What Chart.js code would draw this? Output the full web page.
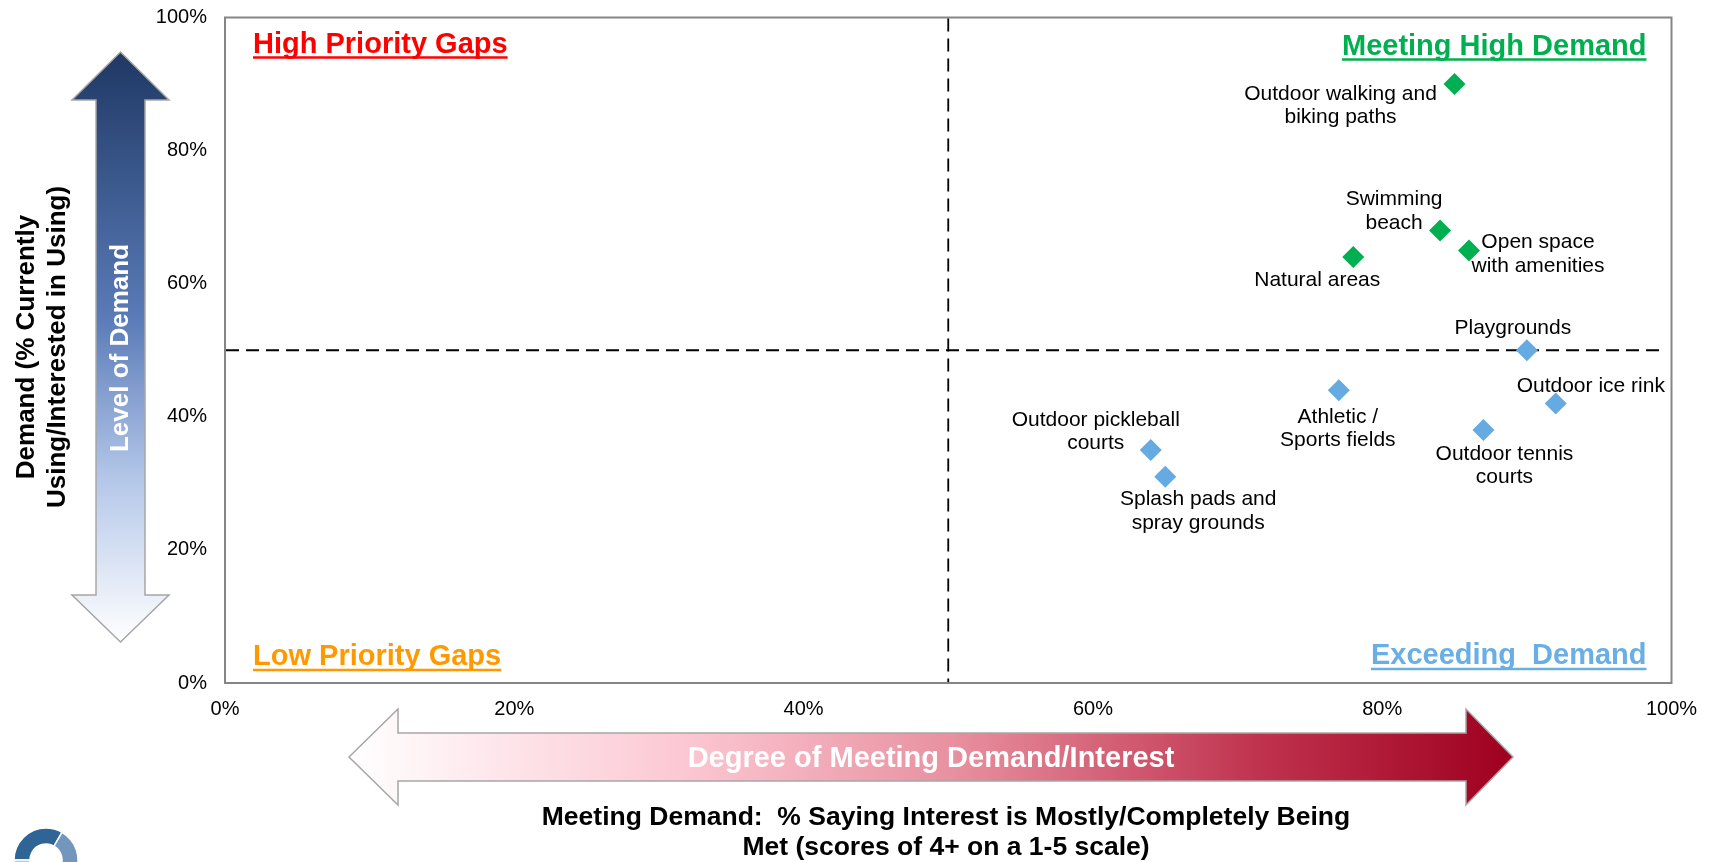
<!DOCTYPE html>
<html>
<head>
<meta charset="utf-8">
<script src="https://cdn.jsdelivr.net/npm/chart.js@4/dist/chart.umd.min.js"></script>
<style>
html,body{margin:0;padding:0;background:#fff;overflow:hidden;}
canvas{display:block;}
</style>
</head>
<body>
<canvas id="c" width="1713" height="862" style="width:1713px;height:862px"></canvas>
<script>
// ---- DATA ----
const highNames = [['Outdoor walking and','biking paths'], ['Swimming','beach'], ['Open space','with amenities'], ['Natural areas']];
const highMet = [85, 84, 86, 78];
const highDemand = [90, 68, 65, 64];

const exceedNames = [['Playgrounds'], ['Outdoor ice rink'], ['Outdoor tennis','courts'], ['Athletic /','Sports fields'], ['Outdoor pickleball','courts'], ['Splash pads and','spray grounds']];
const exceedMet = [90, 92, 87, 77, 64, 65];
const exceedDemand = [50, 42, 38, 44, 35, 31];

const tickLabels = ['0%', '20%', '40%', '60%', '80%', '100%'];
const quadrantTitles = ['High Priority Gaps', 'Meeting High Demand', 'Low Priority Gaps', 'Exceeding  Demand'];
const xTitle = ['Meeting Demand:  % Saying Interest is Mostly/Completely Being', 'Met (scores of 4+ on a 1-5 scale)'];
const yTitle = ['Demand (% Currently', 'Using/Interested in Using)'];
const yArrowText = 'Level of Demand';
const xArrowText = 'Degree of Meeting Demand/Interest';
const threshold = 50;

// ---- LAYOUT (label offsets in px relative to the point) ----
const highLabelOffsets = [[-114, 10], [-46, -31], [69, -8], [-36, 23]];
const exceedLabelOffsets = [[-14, -22], [35, -17], [21, 24], [-1, 27], [-55, -30], [33, 23]];

const FAM = '"Liberation Sans", Arial, Helvetica, sans-serif';
const GREEN = '#00B050', BLUE = '#66AAE2';

function pts(xs, ys) { return xs.map((x, i) => ({ x: x, y: ys[i] })); }

const decor = {
  id: 'decor',
  beforeDraw(chart) {
    const ctx = chart.ctx;
    ctx.save();
    ctx.fillStyle = '#fff';
    ctx.fillRect(0, 0, chart.width, chart.height);

    // vertical double arrow
    let g = ctx.createLinearGradient(0, 52, 0, 642);
    g.addColorStop(0, '#1f3864');
    g.addColorStop(0.45, '#5a7bb8');
    g.addColorStop(0.72, '#b3c6e8');
    g.addColorStop(1, '#ffffff');
    ctx.beginPath();
    [[120.5,52],[169,100],[145,100],[145,595],[169,595],[120.5,642],[72,595],[96,595],[96,100],[72,100]].forEach((p,i)=> i?ctx.lineTo(p[0],p[1]):ctx.moveTo(p[0],p[1]));
    ctx.closePath();
    ctx.fillStyle = g; ctx.fill();
    ctx.strokeStyle = '#a6a6a6'; ctx.lineWidth = 1.5; ctx.stroke();

    ctx.save();
    ctx.translate(121, 348); ctx.rotate(-Math.PI/2);
    ctx.fillStyle = '#fff'; ctx.font = 'bold 26px ' + FAM;
    ctx.textAlign = 'center'; ctx.textBaseline = 'middle';
    ctx.fillText(yArrowText, 0, 0);
    ctx.restore();

    // horizontal double arrow
    g = ctx.createLinearGradient(349, 0, 1513, 0);
    g.addColorStop(0, '#ffffff');
    g.addColorStop(0.28, '#fcc9d4');
    g.addColorStop(0.52, '#e8909f');
    g.addColorStop(0.78, '#c0334f');
    g.addColorStop(1, '#9e001e');
    ctx.beginPath();
    [[349,757],[398,709],[398,733],[1466,733],[1466,709],[1513,757],[1466,805],[1466,781],[398,781],[398,805]].forEach((p,i)=> i?ctx.lineTo(p[0],p[1]):ctx.moveTo(p[0],p[1]));
    ctx.closePath();
    ctx.fillStyle = g; ctx.fill();
    ctx.strokeStyle = '#a6a6a6'; ctx.lineWidth = 1.5; ctx.stroke();
    ctx.fillStyle = '#fff'; ctx.font = 'bold 29px ' + FAM;
    ctx.textAlign = 'center'; ctx.textBaseline = 'middle';
    ctx.fillText(xArrowText, 931, 759);

    // axis titles
    ctx.fillStyle = '#000'; ctx.font = 'bold 26.5px ' + FAM;
    ctx.fillText(xTitle[0], 946, 818);
    ctx.fillText(xTitle[1], 946, 848);
    ctx.font = 'bold 26px ' + FAM;
    ctx.save();
    ctx.translate(0, 347); ctx.rotate(-Math.PI/2);
    ctx.fillText(yTitle[0], 0, 27);
    ctx.fillText(yTitle[1], 0, 58);
    ctx.restore();

    // logo (partial ring)
    const cx = 46, cy = 860, ro = 32, ri = 16;
    function seg(a0, a1, col) {
      ctx.beginPath(); ctx.arc(cx, cy, ro, a0, a1); ctx.arc(cx, cy, ri, a1, a0, true); ctx.closePath();
      ctx.fillStyle = col; ctx.fill();
      ctx.strokeStyle = '#fff'; ctx.lineWidth = 1.5; ctx.stroke();
    }
    seg(Math.PI, 5*Math.PI/3, '#2f6497');
    seg(5*Math.PI/3, 2*Math.PI + 0.4, '#7396bd');
    seg(0.85*Math.PI, Math.PI, '#b8c9de');
    ctx.restore();
  },
  beforeDatasetsDraw(chart) {
    const ctx = chart.ctx, a = chart.chartArea, xs = chart.scales.x, ys = chart.scales.y;
    ctx.save();
    // plot border
    ctx.strokeStyle = '#858585'; ctx.lineWidth = 2;
    ctx.strokeRect(a.left, a.top, a.right - a.left, a.bottom - a.top);
    // dashed threshold lines
    ctx.strokeStyle = '#000'; ctx.lineWidth = 1.8; ctx.setLineDash([13, 7]);
    const vx = xs.getPixelForValue(threshold), hy = ys.getPixelForValue(threshold);
    ctx.beginPath(); ctx.moveTo(vx, a.top + 1); ctx.lineTo(vx, a.bottom - 1); ctx.stroke();
    ctx.beginPath(); ctx.moveTo(a.left + 1, hy); ctx.lineTo(a.right - 12, hy); ctx.stroke();
    ctx.setLineDash([]);

    // quadrant titles
    ctx.font = 'bold 29px ' + FAM; ctx.textBaseline = 'alphabetic';
    function qt(text, x, base, ul, col, align) {
      ctx.fillStyle = col; ctx.strokeStyle = col;
      const w = ctx.measureText(text).width;
      const x0 = align === 'right' ? x - w : x;
      ctx.textAlign = 'left';
      ctx.fillText(text, x0, base);
      ctx.lineWidth = 2.6;
      ctx.beginPath(); ctx.moveTo(x0, ul); ctx.lineTo(x0 + w, ul); ctx.stroke();
    }
    qt(quadrantTitles[0], a.left + 28, 53, 57.5, '#ff0000', 'left');
    qt(quadrantTitles[1], a.right - 25, 55, 59.5, GREEN, 'right');
    qt(quadrantTitles[2], a.left + 28, 665, 670, '#ff9900', 'left');
    qt(quadrantTitles[3], a.right - 25, 664, 669, '#6aaee6', 'right');
    ctx.restore();
  },
  afterDatasetsDraw(chart) {
    const ctx = chart.ctx;
    ctx.save();
    ctx.fillStyle = '#000'; ctx.font = '21px ' + FAM;
    ctx.textAlign = 'center'; ctx.textBaseline = 'middle';
    const sets = [[highNames, highLabelOffsets], [exceedNames, exceedLabelOffsets]];
    sets.forEach((s, di) => {
      const meta = chart.getDatasetMeta(di);
      s[0].forEach((lines, i) => {
        const el = meta.data[i];
        const off = s[1][i];
        lines.forEach((ln, k) => ctx.fillText(ln, el.x + off[0], el.y + off[1] + k * 23.5));
      });
    });
    ctx.restore();
  }
};

const tickFont = { family: FAM, size: 20 };

new Chart(document.getElementById('c'), {
  type: 'scatter',
  data: {
    datasets: [
      { label: 'Meeting High Demand', data: pts(highMet, highDemand), pointStyle: 'rectRot', pointRadius: 11, pointHoverRadius: 11, backgroundColor: GREEN, borderWidth: 0 },
      { label: 'Exceeding Demand', data: pts(exceedMet, exceedDemand), pointStyle: 'rectRot', pointRadius: 11, pointHoverRadius: 11, backgroundColor: BLUE, borderWidth: 0 }
    ]
  },
  options: {
    responsive: false,
    animation: false,
    devicePixelRatio: 1,
    layout: { padding: { left: 0, top: 17.5, right: 41.5, bottom: 0 } },
    scales: {
      x: {
        type: 'linear', min: 0, max: 100,
        grid: { display: false }, border: { display: false },
        ticks: { stepSize: 20, padding: 6, color: '#000', font: tickFont, maxRotation: 0,
                 callback: (v) => tickLabels[Math.round(v / 20)] },
        afterFit: (s) => { s.height = 179; s.paddingLeft = 0; s.paddingRight = 0; }
      },
      y: {
        type: 'linear', min: 0, max: 100,
        grid: { display: false }, border: { display: false },
        ticks: { stepSize: 20, padding: 10, color: '#000', font: tickFont,
                 callback: (v) => tickLabels[Math.round(v / 20)] },
        afterFit: (s) => { s.width = 225; s.paddingTop = 0; s.paddingBottom = 0; }
      }
    },
    plugins: { legend: { display: false }, tooltip: { enabled: false } }
  },
  plugins: [decor]
});
</script>
</body>
</html>
